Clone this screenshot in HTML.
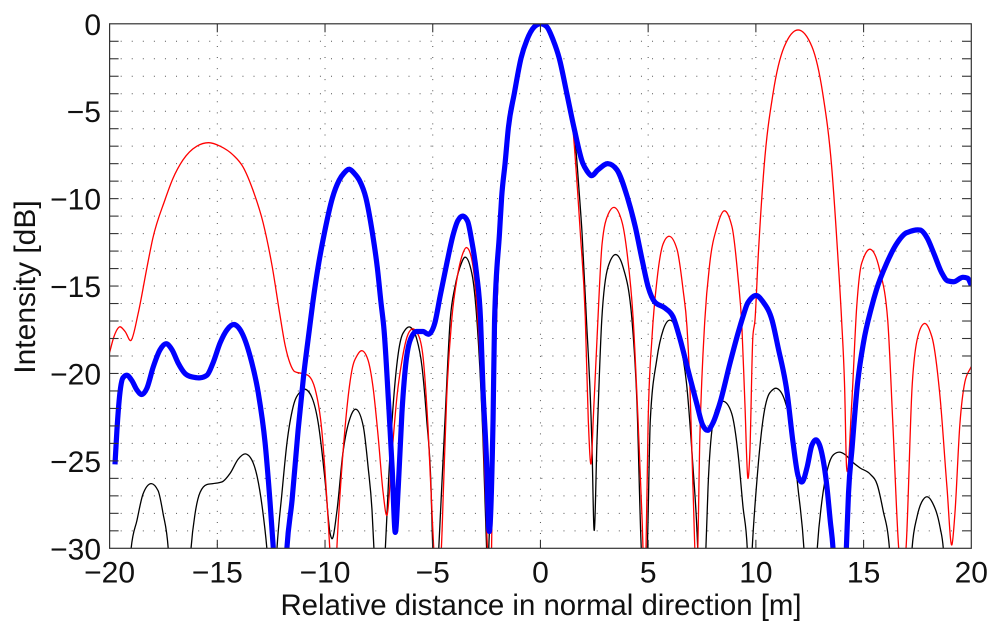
<!DOCTYPE html>
<html lang="en">
<head>
<meta charset="utf-8">
<title>Intensity vs relative distance</title>
<style>
html,body{margin:0;padding:0;background:#fff;width:1000px;height:635px;overflow:hidden}
svg{display:block}
text{font-family:"Liberation Sans",Arial,sans-serif;fill:#111}
</style>
</head>
<body>
<svg id="chart" xmlns="http://www.w3.org/2000/svg" width="1000" height="635" viewBox="0 0 1000 635">
<defs><clipPath id="plot-clip"><rect x="109.6" y="23.8" width="861.7" height="524.5"></rect></clipPath></defs>
<rect x="0" y="0" width="1000" height="635" fill="#fff"></rect>
<g id="grid"></g>
<g id="series" clip-path="url(#plot-clip)"></g>
<g id="axes"></g>
<text x="541" y="615" font-size="29.4" text-anchor="middle">Relative distance in normal direction [m]</text>
<text transform="translate(35 287) rotate(-90)" font-size="30" text-anchor="middle">Intensity [dB]</text>
</svg>
<script>
const xTicks = [-20, -15, -10, -5, 0, 5, 10, 15, 20];
const yLabelTicks = [0, -5, -10, -15, -20, -25, -30];
const yMinorTicks = [-1,-2,-3,-4,-5,-6,-7,-8,-9,-10,-11,-12,-13,-14,-15,-16,-17,-18,-19,-20,-21,-22,-23,-24,-25,-26,-27,-28,-29];

const blackSeries = [[-19.05,-31],[-19,-30],[-18.73,-28.4],[-18.45,-26.9],[-18.08,-26.3],[-17.75,-26.7],[-17.52,-28],[-17.28,-30],[-17.2,-31.5],
[-16.3,-31.5],[-16.22,-30],[-16.03,-28],[-15.8,-26.8],[-15.48,-26.35],[-15.2,-26.3],[-14.78,-26.2],[-14.4,-25.7],[-14.03,-24.9],[-13.7,-24.6],[-13.47,-24.8],[-13.15,-25.9],[-12.92,-27.6],[-12.7,-30],[-12.6,-31.5],
[-12.3,-31.5],[-12.23,-30],[-12,-26.85],[-11.77,-24],[-11.48,-21.9],[-11.15,-21.05],[-10.93,-20.9],[-10.6,-21.4],[-10.32,-22.8],[-10,-26.1],[-9.77,-29.1],[-9.68,-29.45],[-9.45,-27.9],[-9.17,-24.55],[-8.9,-22.8],[-8.55,-22.05],[-8.22,-23.05],[-8,-25.35],[-7.82,-27.8],[-7.73,-30],[-7.65,-31.5],
[-7.28,-31.5],[-7.2,-30],[-7.05,-26.1],[-6.83,-21.7],[-6.6,-18.85],[-6.38,-17.7],[-6.05,-17.35],[-5.75,-18],[-5.5,-19.6],[-5.28,-22.65],[-5.08,-26.5],[-5,-30],[-4.93,-31.5],
[-4.78,-31.5],[-4.72,-30],[-4.43,-22.65],[-4.19,-16.95],[-3.96,-15],[-3.73,-13.9],[-3.5,-13.35],[-3.18,-14.3],[-2.95,-16.95],[-2.67,-23.65],[-2.5,-30],[-2.45,-31.5],
[-2.4,-30],[-2.18,-22.65],[-2.04,-16.95],[-1.75,-9.5],[-1.59,-7.96],[-1.44,-5.96],[-1.16,-3.96],[-0.87,-1.96],[-0.6,-0.93],[-0.27,-0.18],[0,0],[0.28,-0.15],[0.59,-0.93],[0.87,-1.96],[1.22,-3.96],[1.47,-5.3],[1.66,-7.4],[1.79,-9.5],[1.93,-11.95],[2.12,-16.55],[2.4,-24.55],[2.48,-28.8],[2.63,-23.65],[2.85,-16.85],[3.14,-13.9],[3.5,-13.2],[3.83,-13.9],[4.25,-16.95],[4.48,-21.7],[4.68,-30],[4.75,-31.5],
[4.9,-31.5],[4.96,-30],[5.1,-22.65],[5.4,-19.2],[5.7,-17.5],[6,-16.95],[6.45,-18.1],[6.8,-20.8],[7.08,-25.35],[7.27,-29.1],[7.3,-30],[7.35,-31.5],
[7.6,-31.5],[7.68,-30],[7.78,-26.5],[8,-22.85],[8.25,-21.8],[8.52,-21.6],[8.88,-22.3],[9.17,-24.55],[9.4,-27.6],[9.6,-30],[9.65,-31.5],
[9.77,-31.5],[9.83,-30],[10.05,-26.1],[10.33,-22.65],[10.65,-21.1],[10.97,-20.85],[11.33,-21.5],[11.66,-23.25],[11.95,-26.5],[12.23,-30],[12.3,-31.5],
[12.78,-31.5],[12.85,-30],[13.07,-27.25],[13.35,-25.35],[13.6,-24.65],[13.87,-24.5],[14.15,-24.65],[14.47,-25.05],[14.83,-25.4],[15.3,-25.75],[15.63,-26.35],[15.9,-27.8],[16.2,-30],[16.27,-31.5],
[17.18,-31.5],[17.25,-30],[17.48,-28.2],[17.7,-27.35],[17.95,-27.05],[18.2,-27.4],[18.55,-28.8],[18.7,-30],[18.78,-31.5]];

const redSeries = [[-20,-18.8],[-19.8,-17.9],[-19.56,-17.35],[-19.28,-17.6],[-19,-18.1],[-18.68,-16.6],[-18.26,-13.9],[-18,-12.3],[-17.43,-10.07],[-17.06,-8.85],[-16.6,-7.8],[-15.95,-7],[-15.4,-6.8],[-14.87,-7],[-14.27,-7.5],[-13.8,-8.2],[-13.35,-9.5],[-12.87,-11.4],[-12.45,-13.9],[-12.1,-16.6],[-11.85,-18.4],[-11.63,-19.4],[-11.4,-19.9],[-11.07,-20],[-10.8,-20.1],[-10.47,-20.85],[-10.15,-23.25],[-9.87,-28.1],[-9.78,-30],[-9.72,-31.5],
[-9.5,-31.5],[-9.45,-30],[-9.3,-26.85],[-9.07,-23.1],[-8.75,-19.8],[-8.5,-18.95],[-8.28,-18.7],[-8,-19.25],[-7.77,-20.8],[-7.53,-23.65],[-7.3,-26.85],[-7.12,-28.1],[-6.88,-24.4],[-6.65,-21.2],[-6.42,-19.2],[-6.19,-17.9],[-5.95,-17.45],[-5.67,-17.8],[-5.45,-19.05],[-5.22,-23.05],[-4.98,-29.35],[-4.9,-31],
[-4.68,-31],[-4.6,-30],[-4.5,-26.5],[-4.35,-21.3],[-4.12,-16.95],[-3.85,-14.4],[-3.66,-13.35],[-3.42,-12.8],[-3.2,-13.4],[-2.97,-15.8],[-2.68,-22.65],[-2.5,-28.8],[-2.41,-31],
[-2.3,-31],[-2.27,-30],[-2.18,-22.65],[-2.04,-16.95],[-1.75,-9.5],[-1.59,-7.96],[-1.44,-5.96],[-1.16,-3.96],[-0.87,-1.96],[-0.6,-0.93],[-0.27,-0.18],[0,0],[0.28,-0.15],[0.59,-0.93],[0.87,-1.96],[1.22,-3.96],[1.45,-5.3],[1.6,-7.4],[1.72,-9.5],[1.85,-11.95],[2.08,-16.75],[2.22,-22.65],[2.36,-25.1],[2.45,-22.65],[2.63,-17.9],[2.86,-12.6],[3.14,-10.9],[3.42,-10.5],[3.8,-11.4],[4.03,-13.2],[4.3,-16.8],[4.53,-22.65],[4.72,-28.4],[4.8,-31],
[4.84,-31],[4.9,-30],[5,-22.65],[5.18,-17.9],[5.41,-14.65],[5.69,-12.6],[5.97,-12.15],[6.34,-12.9],[6.62,-15.2],[6.8,-17.3],[6.94,-20.8],[7.08,-26.5],[7.22,-31],
[7.27,-31],[7.4,-23.65],[7.63,-16.95],[7.86,-13.7],[8.2,-11.6],[8.52,-10.7],[8.89,-11.6],[9.17,-14.5],[9.35,-17.3],[9.49,-21.7],[9.63,-26],[9.72,-24.55],[9.86,-17.9],[9.96,-16.93],[10.1,-13.5],[10.38,-8.2],[10.8,-3.96],[11.31,-1.33],[11.96,-0.35],[12.6,-1.3],[13.1,-3.95],[13.52,-8.2],[13.8,-13.2],[13.98,-16.95],[14.12,-20.8],[14.21,-25.35],[14.45,-21.7],[14.68,-16.2],[14.91,-13.7],[15.33,-12.9],[15.75,-14.1],[16.12,-16.95],[16.35,-22.65],[16.63,-30],[16.7,-31],
[16.9,-31],[16.97,-30],[17.25,-20.8],[17.48,-18.1],[17.8,-17.15],[18.17,-17.9],[18.55,-21.35],[18.87,-26.5],[19.1,-29.8],[19.24,-28],[19.47,-22.9],[19.7,-20.5],[20,-19.6]];

const blueSeries = [[-19.75,-25.2],[-19.66,-23.25],[-19.52,-21.1],[-19.38,-20.25],[-19.2,-20.1],[-18.97,-20.4],[-18.73,-20.95],[-18.5,-21.2],[-18.27,-20.85],[-17.98,-19.65],[-17.66,-18.65],[-17.38,-18.3],[-17.1,-18.65],[-16.82,-19.4],[-16.5,-20],[-16.17,-20.2],[-15.8,-20.25],[-15.48,-20.1],[-15.2,-19.4],[-14.87,-18.25],[-14.55,-17.5],[-14.22,-17.2],[-13.85,-17.7],[-13.47,-19.05],[-13.1,-21.1],[-12.78,-24],[-12.55,-27.4],[-12.4,-30],[-12.25,-33],
[-11.9,-33],[-11.77,-30],[-11.53,-27.25],[-11.25,-23.25],[-11,-20.2],[-10.73,-17.52],[-10.57,-15.97],[-10.33,-13.97],[-10.03,-11.97],[-9.66,-9.97],[-9.34,-8.94],[-9.12,-8.54],[-8.87,-8.32],[-8.65,-8.54],[-8.41,-8.94],[-8.1,-9.97],[-7.8,-11.97],[-7.57,-13.97],[-7.4,-15.97],[-7.26,-17.52],[-7.05,-21.7],[-6.88,-25.5],[-6.75,-29.05],[-6.6,-26.5],[-6.43,-22.25],[-6.28,-19.8],[-6.05,-18.1],[-5.75,-17.6],[-5.45,-17.6],[-5.18,-17.75],[-4.9,-17.1],[-4.66,-15.6],[-4.33,-13.6],[-4.05,-12.05],[-3.83,-11.25],[-3.6,-11],[-3.38,-11.3],[-3.2,-12.35],[-2.97,-14.25],[-2.78,-16.95],[-2.67,-20.8],[-2.5,-25.1],[-2.4,-28.85],[-2.2,-22.65],[-2.13,-16.95],[-1.9,-11.95],[-1.8,-9.9],[-1.64,-7.96],[-1.49,-5.96],[-1.21,-3.96],[-0.9,-1.96],[-0.63,-0.93],[-0.29,-0.18],[0,0],[0.28,-0.15],[0.59,-0.93],[0.87,-1.96],[1.22,-3.96],[1.56,-5.96],[1.96,-7.96],[2.16,-8.42],[2.35,-8.68],[2.67,-8.35],[3.14,-8],[3.55,-8.35],[4.03,-9.9],[4.4,-11.6],[4.72,-13.5],[5,-15.05],[5.3,-15.9],[5.77,-16.25],[6.15,-16.75],[6.45,-17.9],[6.85,-19.8],[7.25,-21.7],[7.53,-22.95],[7.77,-23.25],[8,-22.85],[8.33,-21.7],[8.8,-19.4],[9.17,-17.7],[9.4,-16.75],[9.63,-15.95],[10.05,-15.55],[10.33,-15.9],[10.75,-16.95],[11.03,-18.5],[11.45,-21.1],[11.73,-24],[11.97,-25.9],[12.15,-26.2],[12.38,-25.35],[12.6,-24.1],[12.8,-23.8],[13.03,-24.4],[13.3,-26.5],[13.45,-28.4],[13.58,-30],[13.7,-33],
[14.1,-33],[14.2,-30],[14.3,-26.85],[14.47,-24.2],[14.7,-20.8],[15,-18.2],[15.35,-16.3],[15.6,-15.2],[16.07,-13.7],[16.55,-12.55],[17,-11.95],[17.63,-11.8],[17.95,-12.25],[18.25,-13.1],[18.63,-14.25],[18.9,-14.7],[19.2,-14.75],[19.6,-14.5],[19.83,-14.55],[20,-14.95]];

const plotLeft = 109.6, plotRight = 971.3, plotTop = 23.8, plotBottom = 548.3;
const svgNS = 'http://www.w3.org/2000/svg';
function xScale(v){ return plotLeft + (v + 20) / 40 * (plotRight - plotLeft); }
function yScale(v){ return plotTop - v / 30 * (plotBottom - plotTop); }
function make(tag, attrs, parent){
  const el = document.createElementNS(svgNS, tag);
  for (const k in attrs) el.setAttribute(k, attrs[k]);
  parent.appendChild(el);
  return el;
}
function smoothPath(points){
  const px = points.map(p => xScale(p[0]));
  const py = points.map(p => yScale(p[1]));
  const n = px.length, d = [], m = [];
  for (let i = 0; i < n - 1; i++) d.push((py[i+1] - py[i]) / (px[i+1] - px[i]));
  m[0] = d[0]; m[n-1] = d[n-2];
  for (let i = 1; i < n - 1; i++) {
    const h0 = px[i] - px[i-1], h1 = px[i+1] - px[i];
    const p = (d[i-1] * h1 + d[i] * h0) / (h0 + h1);
    const lim = Math.min(Math.abs(d[i-1]), Math.abs(d[i]));
    if (d[i-1] * d[i] > 0) {
      m[i] = Math.sign(d[i]) * Math.min(Math.abs(p), 2 * lim);
    } else {
      m[i] = Math.sign(p) * Math.min(Math.abs(p), lim);
    }
  }
  let s = 'M' + px[0].toFixed(2) + ' ' + py[0].toFixed(2);
  for (let i = 0; i < n - 1; i++) {
    const h = (px[i+1] - px[i]) / 3;
    s += 'C' + (px[i]+h).toFixed(2) + ' ' + (py[i]+m[i]*h).toFixed(2) + ' ' +
         (px[i+1]-h).toFixed(2) + ' ' + (py[i+1]-m[i+1]*h).toFixed(2) + ' ' +
         px[i+1].toFixed(2) + ' ' + py[i+1].toFixed(2);
  }
  return s;
}

const grid = document.getElementById('grid');
const axes = document.getElementById('axes');
const seriesGroup = document.getElementById('series');
const dotStyle = {stroke:'#555', 'stroke-width':1, 'stroke-dasharray':'1 10.07', fill:'none'};

yMinorTicks.forEach(function(v){
  const y = yScale(v);
  const line = make('line', Object.assign({x1:plotLeft, x2:plotRight, y1:y, y2:y}, dotStyle), grid);
  
  
  const left = make('line', {x1:plotLeft, x2:plotLeft+9, y1:y, y2:y, stroke:'#333', 'stroke-width':1.1}, axes);
  
  
  const right = make('line', {x1:plotRight-9, x2:plotRight, y1:y, y2:y, stroke:'#333', 'stroke-width':1.1}, axes);
  
  
});
xTicks.slice(1, -1).forEach(function(v){
  const x = xScale(v);
  const line = make('line', Object.assign({x1:x, x2:x, y1:plotTop, y2:plotBottom}, dotStyle), grid);
  
  
  const top = make('line', {x1:x, x2:x, y1:plotTop, y2:plotTop+8.5, stroke:'#333', 'stroke-width':1.1}, axes);
  
  
  const bottom = make('line', {x1:x, x2:x, y1:plotBottom-8.5, y2:plotBottom, stroke:'#333', 'stroke-width':1.1}, axes);
  
  
});

const blackLine = make('path', {d:smoothPath(blackSeries), fill:'none', stroke:'#000', 'stroke-width':1.3, 'stroke-linejoin':'round'}, seriesGroup);


const redLine = make('path', {d:smoothPath(redSeries), fill:'none', stroke:'#ff0000', 'stroke-width':1.3, 'stroke-linejoin':'round'}, seriesGroup);


const blueLine = make('path', {d:smoothPath(blueSeries), fill:'none', stroke:'#0000ff', 'stroke-width':5.2, 'stroke-linejoin':'round'}, seriesGroup);



const frame = make('rect', {x:plotLeft, y:plotTop, width:plotRight-plotLeft, height:plotBottom-plotTop, fill:'none', stroke:'#333', 'stroke-width':1.2}, axes);



function fmt(v){ return v < 0 ? '\u2212' + Math.abs(v) : String(v); }
xTicks.forEach(function(v){
  const t = make('text', {x:xScale(v), y:582.7, 'font-size':30, 'text-anchor':'middle'}, axes);
  t.textContent = fmt(v);
  
  
});
yLabelTicks.forEach(function(v){
  const t = make('text', {x:101, y:yScale(v)+11, 'font-size':30, 'text-anchor':'end'}, axes);
  t.textContent = fmt(v);
  
  
});
</script>
</body>
</html>
